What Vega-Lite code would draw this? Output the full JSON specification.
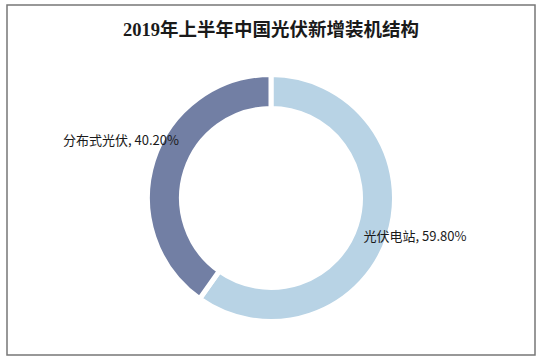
{
  "$schema": "https://vega.github.io/schema/vega-lite/v6.json",
  "width": 528,
  "height": 350,
  "autosize": "none",
  "padding": {"left": 7, "top": 5, "right": 7, "bottom": 6},
  "background": "white",
  "view": {"stroke": "#777777", "strokeWidth": 1.5},
  "title": {
    "text": "2019年上半年中国光伏新增装机结构",
    "font": "Liberation Serif, Noto Sans CJK SC",
    "fontSize": 18.5,
    "fontWeight": "bold",
    "color": "#1a1a1a",
    "anchor": "middle",
    "offset": -34
  },
  "data": {
    "values": [
      {"类别": "光伏电站", "占比": 59.8, "标签": "光伏电站, 59.80%", "序": 1},
      {"类别": "分布式光伏", "占比": 40.2, "标签": "分布式光伏, 40.20%", "序": 2}
    ]
  },
  "encoding": {
    "theta": {"field": "占比", "type": "quantitative", "stack": true},
    "order": {"field": "序", "type": "quantitative"}
  },
  "layer": [
    {
      "mark": {
        "type": "arc",
        "outerRadius": 123.5,
        "innerRadius": 89.5,
        "stroke": "white",
        "strokeWidth": 5,
        "y": {"expr": "height/2 + 18"}
      },
      "encoding": {
        "color": {
          "field": "类别",
          "type": "nominal",
          "scale": {"domain": ["光伏电站", "分布式光伏"], "range": ["#b8d3e5", "#727fa4"]},
          "legend": null
        }
      }
    },
    {
      "mark": {
        "type": "text",
        "radius": 97,
        "align": "left",
        "baseline": "middle",
        "dy": 10,
        "font": "Noto Sans CJK SC",
        "fontSize": 13,
        "color": "#1a1a1a",
        "y": {"expr": "height/2 + 18"}
      },
      "encoding": {
        "text": {"condition": {"test": "datum['类别'] === '光伏电站'", "field": "标签"}, "value": ""}
      }
    },
    {
      "mark": {
        "type": "text",
        "radius": 96.5,
        "align": "right",
        "baseline": "middle",
        "dy": -28,
        "font": "Noto Sans CJK SC",
        "fontSize": 13,
        "color": "#1a1a1a",
        "y": {"expr": "height/2 + 18"}
      },
      "encoding": {
        "text": {"condition": {"test": "datum['类别'] === '分布式光伏'", "field": "标签"}, "value": ""}
      }
    }
  ]
}
